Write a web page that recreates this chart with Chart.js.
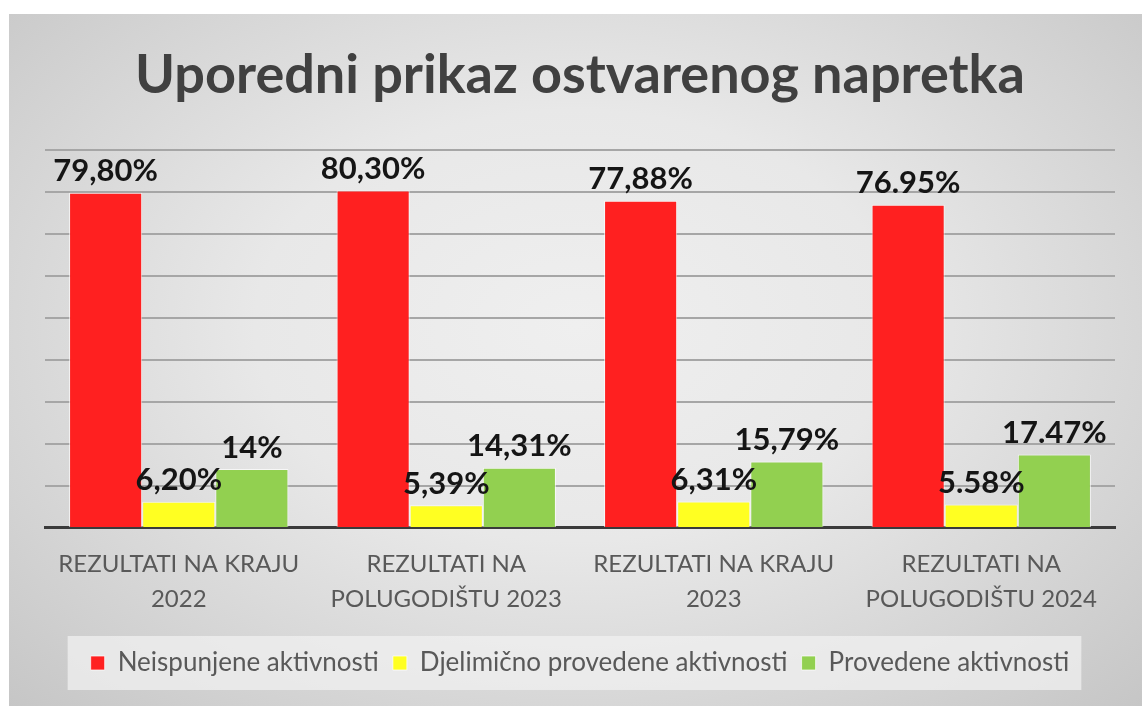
<!DOCTYPE html>
<html>
<head>
<meta charset="utf-8">
<script src="https://cdn.jsdelivr.net/npm/chart.js@4.4.1/dist/chart.umd.min.js"></script>
<style>
  body { margin: 0; background: #fff; }
  #wrap {
    position: absolute; left: 9px; top: 14px; width: 1133px; height: 692px;
    background: radial-gradient(ellipse at 50% 45%, #efefef 0%, #e8e8e8 40%, #c6c6c6 100%);
  }
</style>
</head>
<body>
<div id="wrap"><canvas id="chart"></canvas></div>
<script>
// chart data
const categories = [
  ["REZULTATI NA KRAJU", "2022"],
  ["REZULTATI NA", "POLUGODIŠTU 2023"],
  ["REZULTATI NA KRAJU", "2023"],
  ["REZULTATI NA", "POLUGODIŠTU 2024"]
];
const neispunjene = [79.80, 80.30, 77.88, 76.95];
const djelimicno = [6.20, 5.39, 6.31, 5.58];
const provedene = [14, 14.31, 15.79, 17.47];

// labels as written on the chart
const neispunjeneLabels = ["79,80%", "80,30%", "77,88%", "76.95%"];
const djelimicnoLabels = ["6,20%", "5,39%", "6,31%", "5.58%"];
const provedeneLabels = ["14%", "14,31%", "15,79%", "17.47%"];

const FONT = "Lato, 'Open Sans', sans-serif";

// draws the value above each bar
const barLabels = {
  id: 'barLabels',
  afterDatasetsDraw(chart) {
    const ctx = chart.ctx;
    ctx.save();
    ctx.font = "bold 31px " + FONT;
    ctx.fillStyle = "#151515";
    ctx.textAlign = "center";
    ctx.textBaseline = "bottom";
    chart.data.datasets.forEach((ds, i) => {
      chart.getDatasetMeta(i).data.forEach((bar, j) => {
        ctx.fillText(ds.valueLabels[j], bar.x, bar.y - 6);
      });
    });
    ctx.restore();
  }
};

// lighter box behind the legend
const legendBox = {
  id: 'legendBox',
  beforeDraw(chart) {
    const boxes = chart.legend.legendHitBoxes;
    if (!boxes || !boxes.length) return;
    let left = Math.min(...boxes.map(b => b.left)) - 23;
    let right = Math.max(...boxes.map(b => b.left + b.width)) + 12;
    let top = Math.min(...boxes.map(b => b.top)) - 14;
    let bottom = Math.max(...boxes.map(b => b.top + b.height)) + 14;
    const ctx = chart.ctx;
    ctx.save();
    ctx.fillStyle = "rgba(240,240,240,0.75)";
    ctx.fillRect(left, top, right - left, bottom - top);
    ctx.restore();
  }
};

const ctx = document.getElementById("chart").getContext("2d");

new Chart(ctx, {
  type: 'bar',
  data: {
    labels: categories,
    datasets: [{
      label: 'Neispunjene aktivnosti',
      data: neispunjene,
      valueLabels: neispunjeneLabels,
      backgroundColor: '#FF2020',
      borderColor: 'rgba(255,255,255,0.7)',
      borderWidth: 1
    }, {
      label: 'Djelimično provedene aktivnosti',
      data: djelimicno,
      valueLabels: djelimicnoLabels,
      backgroundColor: '#FFFF22',
      borderColor: 'rgba(255,255,255,0.7)',
      borderWidth: 1
    }, {
      label: 'Provedene aktivnosti',
      data: provedene,
      valueLabels: provedeneLabels,
      backgroundColor: '#92D050',
      borderColor: 'rgba(255,255,255,0.7)',
      borderWidth: 1
    }]
  },
  options: {
    responsive: true,
    maintainAspectRatio: false,
    animation: false,
    categoryPercentage: 0.82,
    barPercentage: 1.0,
    layout: { padding: { left: 36, right: 27, top: 0, bottom: 20 } },
    scales: {
      x: {
        grid: { display: false, drawTicks: false },
        border: { display: true, color: '#3a3a3a', width: 3 },
        ticks: {
          color: '#595959',
          padding: 19,
          maxRotation: 0,
          font: { family: FONT, size: 24, lineHeight: 1.46 }
        }
      },
      y: {
        min: 0,
        max: 90,
        ticks: { display: false, stepSize: 10 },
        grid: { color: '#a6a6a6', lineWidth: 2, drawTicks: false },
        border: { display: false }
      }
    },
    plugins: {
      title: {
        display: true,
        text: 'Uporedni prikaz ostvarenog napretka',
        color: '#404040',
        font: { family: FONT, size: 54, weight: 'bold' },
        padding: { top: 29, bottom: 42 }
      },
      legend: {
        position: 'bottom',
        labels: {
          color: '#595959',
          boxWidth: 14,
          boxHeight: 14,
          padding: 14,
          font: { family: FONT, size: 26 }
        }
      },
      tooltip: { enabled: false }
    }
  },
  plugins: [barLabels, legendBox]
});
</script>
</body>
</html>
